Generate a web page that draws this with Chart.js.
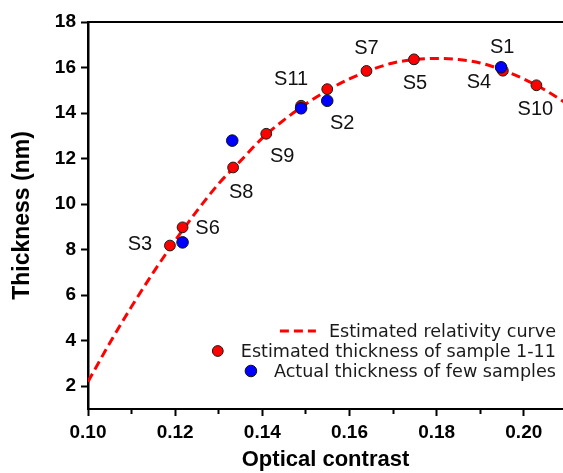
<!DOCTYPE html>
<html><head><meta charset="utf-8">
<script src="https://cdn.jsdelivr.net/npm/chart.js@4/dist/chart.umd.min.js"></script>
<style>html,body{margin:0;padding:0;background:#fff}#wrap{width:563px;height:473px}</style>
</head><body><div id="wrap"><canvas id="c" width="563" height="473"></canvas></div>
<script>
// ---- data ----
const sampleNames   = ['S1','S2','S3','S4','S5','S6','S7','S8','S9','S10','S11'];
const estContrast   = [0.1948,0.1549,0.1188,0.1952,0.1748,0.1217,0.1639,0.1333,0.1409,0.2029,0.1489];
const estThickness  = [15.98,15.05,8.18,15.86,16.36,8.98,15.85,11.61,13.09,15.22,14.32];

const actualNames     = ['S6','S8','S11','S2','S1'];
const actualContrast  = [0.1217,0.1331,0.1489,0.1549,0.1948];
const actualThickness = [8.32,12.79,14.21,14.54,16.01];

const curveContrast  = [0.100,0.105,0.110,0.115,0.120,0.125,0.130,0.135,0.140,0.145,0.150,0.155,0.160,0.165,0.170,0.175,0.180,0.185,0.190,0.195,0.200,0.205,0.210];
const curveThickness = [2.2,3.9,5.5,7.0,8.4,9.7,10.9,11.9,12.9,13.7,14.4,15.0,15.5,15.9,16.2,16.35,16.4,16.35,16.2,15.9,15.5,15.0,14.4];

const xMajorTicks = [0.10,0.12,0.14,0.16,0.18,0.20];
const xMinorTicks = [0.11,0.13,0.15,0.17,0.19];
const yTicks      = [2,4,6,8,10,12,14,16,18];

const legendLabels = ['Estimated relativity curve','Estimated thickness of sample 1-11','Actual thickness of few samples'];
const xTitle = 'Optical contrast';
const yTitle = 'Thickness (nm)';

// ---- label placement (pixel offsets from each estimated point) ----
const labelOffsets = {S1:[1,-21],S2:[15,34],S3:[-30,-1],S4:[-24,12],S5:[1,24],S6:[25,1],S7:[0,-22],S8:[8,25],S9:[16,23],S10:[-1,24],S11:[-10,-26]};

const isMajor = v => xMajorTicks.some(t => Math.abs(t - v) < 1e-6);
const tickFont = {family:'"Liberation Sans", Arial, sans-serif', size:19, weight:'bold'};
const titleFont = {family:'"Liberation Sans", Arial, sans-serif', size:22, weight:'bold'};

const toXY = (xs, ys) => xs.map((x,i)=>({x:x, y:ys[i]}));

const decor = {
  id:'decor',
  afterDatasetsDraw(chart){
    const ctx = chart.ctx, ca = chart.chartArea;
    const xs = chart.scales.x, ys = chart.scales.y;
    ctx.save();
    // top frame line
    ctx.strokeStyle = '#000'; ctx.lineWidth = 2; ctx.setLineDash([]);
    ctx.beginPath(); ctx.moveTo(ca.left-1, ca.top); ctx.lineTo(ca.right, ca.top); ctx.stroke();
    // sample labels
    ctx.fillStyle = '#111';
    ctx.font = '20px "Liberation Sans", Arial, sans-serif';
    ctx.textAlign = 'center'; ctx.textBaseline = 'middle';
    sampleNames.forEach((n,i)=>{
      const px = xs.getPixelForValue(estContrast[i]);
      const py = ys.getPixelForValue(estThickness[i]);
      const o = labelOffsets[n];
      ctx.fillText(n, px+o[0], py+o[1]);
    });
    // legend (right aligned)
    const ds = chart.data.datasets;
    ctx.font = '17.6px "DejaVu Sans", Verdana, sans-serif';
    ctx.textAlign = 'left'; ctx.textBaseline = 'middle';
    const rightEdge = 556, rowY = [331, 351, 371];
    legendLabels.forEach((t,i)=>{
      const w = ctx.measureText(t).width;
      const tx = rightEdge - w;
      const y = rowY[i];
      const d = ds[i];
      if (i === 0){
        ctx.strokeStyle = d.borderColor; ctx.lineWidth = d.borderWidth;
        ctx.setLineDash(d.borderDash);
        ctx.beginPath(); ctx.moveTo(tx-49, y); ctx.lineTo(tx-13, y); ctx.stroke();
        ctx.setLineDash([]);
      } else {
        ctx.fillStyle = d.backgroundColor; ctx.strokeStyle = d.borderColor; ctx.lineWidth = d.borderWidth;
        ctx.beginPath(); ctx.arc(tx-23, y, d.pointRadius, 0, Math.PI*2); ctx.fill(); ctx.stroke();
      }
      ctx.fillStyle = '#1a1a1a';
      ctx.fillText(t, tx, y+1);
    });
    ctx.restore();
  }
};

new Chart(document.getElementById('c'), {
  type:'scatter',
  data:{datasets:[
    {label:legendLabels[0], type:'line', data:toXY(curveContrast,curveThickness),
     borderColor:'#ff0000', borderWidth:3, borderDash:[9,5], pointRadius:0, fill:false,
     cubicInterpolationMode:'monotone', order:3},
    {label:legendLabels[1], data:toXY(estContrast,estThickness),
     backgroundColor:'#ff0000', borderColor:'#1a1a1a', borderWidth:1, pointRadius:5.4, order:2},
    {label:legendLabels[2], data:toXY(actualContrast,actualThickness),
     backgroundColor:'#0000ff', borderColor:'#111', borderWidth:1, pointRadius:5.8, order:1}
  ]},
  options:{
    responsive:false, animation:false, devicePixelRatio:1, events:[],
    layout:{padding:{top:22,right:0,bottom:0,left:0}, autoPadding:false},
    plugins:{legend:{display:false}, tooltip:{enabled:false}},
    scales:{
      x:{type:'linear', min:0.10, max:0.209,
        afterBuildTicks:s=>{ s.ticks = xMajorTicks.concat(xMinorTicks).sort((a,b)=>a-b).map(v=>({value:v})); },
        afterFit:s=>{ s.height = 64; s.paddingRight = 0; s.paddingLeft = 0; },
        ticks:{callback:v=> isMajor(v) ? v.toFixed(2) : '', font:tickFont, color:'#000', padding:5, maxRotation:0, autoSkip:false},
        grid:{drawOnChartArea:false, tickLength:7, tickWidth:2, tickColor:'#000',
              tickBorderDash: c => (c.tick && !isMajor(c.tick.value)) ? [4,40] : []},
        border:{color:'#000', width:2},
        title:{display:true, text:xTitle, font:titleFont, color:'#000', padding:{top:0,bottom:0}}
      },
      y:{type:'linear', min:1, max:18,
        afterBuildTicks:s=>{ s.ticks = yTicks.map(v=>({value:v})); },
        afterFit:s=>{ s.width = 88; s.paddingTop = 0; s.paddingBottom = 0; },
        ticks:{font:tickFont, color:'#000', padding:5},
        grid:{drawOnChartArea:false, tickLength:7, tickWidth:2, tickColor:'#000'},
        border:{color:'#000', width:2.5},
        title:{display:true, text:yTitle, font:{family:'"Liberation Sans", Arial, sans-serif', size:23, weight:'bold'}, color:'#000', padding:{top:9,bottom:0}}
      }
    }
  },
  plugins:[decor]
});
</script></body></html>
